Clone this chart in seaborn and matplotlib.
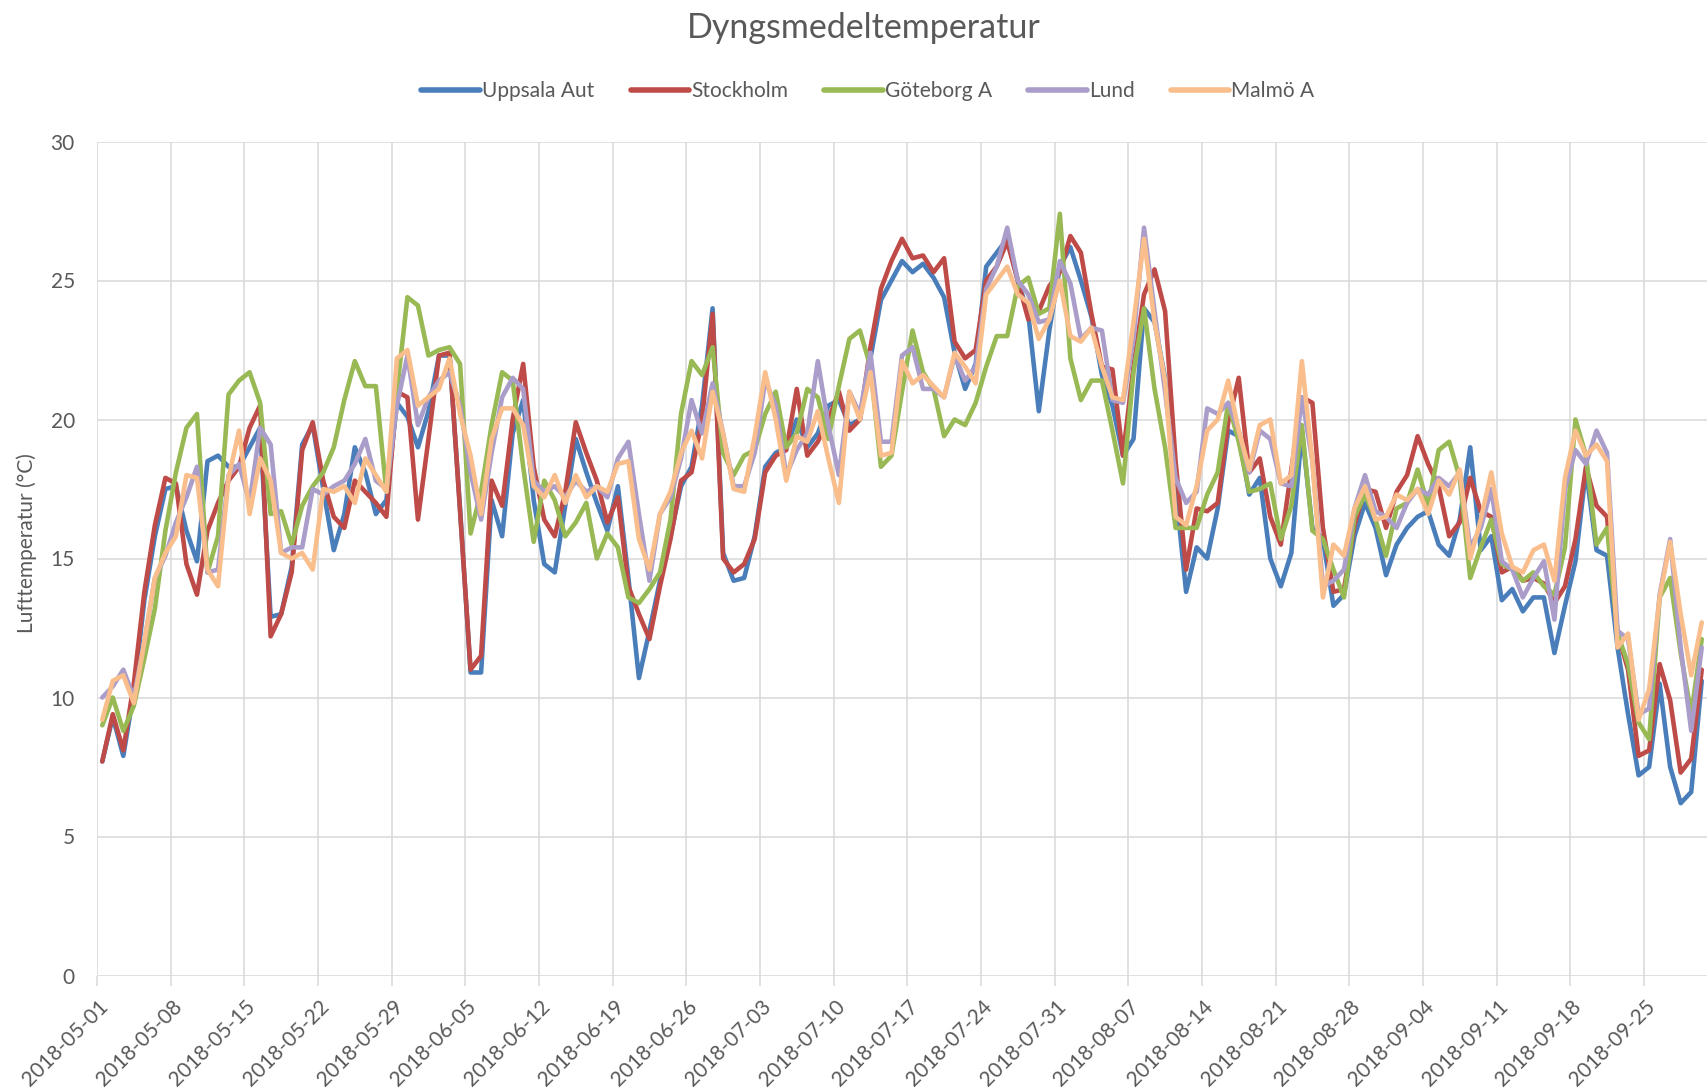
import pandas as pd
import seaborn as sns
import matplotlib.pyplot as plt
import matplotlib.dates as mdates
from matplotlib.transforms import ScaledTranslation

# Dygnsmedeltemperatur 2018-05-01 .. 2018-09-30 (153 dagar)
start = "2018-05-01"
stationer = ["Uppsala Aut", "Stockholm", "Göteborg A", "Lund", "Malmö A"]
farger = ["#4a7ebb", "#be4b48", "#98b954", "#ab9dca", "#f9be8c"]

uppsala = [7.7, 9.3, 7.9, 10.2, 13.5, 15.8, 17.5, 17.6, 16.0, 14.9, 18.5, 18.7, 18.3, 18.3, 19.0, 19.7, 12.9, 13.0, 14.7, 19.1, 19.8, 17.5, 15.3, 16.6, 19.0, 18.1,
           16.6, 17.1, 20.6, 20.1, 19.0, 20.3, 22.3, 22.3, 16.8, 10.9, 10.9, 17.1, 15.8, 19.5, 20.7, 17.1, 14.8, 14.5, 16.9, 19.3, 18.1, 17.0, 16.0, 17.6, 14.3,
           10.7, 12.4, 14.2, 15.8, 17.6, 18.3, 20.5, 24.0, 15.2, 14.2, 14.3, 15.8, 18.3, 18.8, 19.0, 20.0, 19.0, 19.5, 20.5, 20.7, 19.8, 20.0, 22.2, 24.3, 25.0,
           25.7, 25.3, 25.6, 25.1, 24.4, 22.4, 21.1, 22.0, 25.5, 26.0, 26.5, 25.0, 23.8, 20.3, 23.2, 25.5, 26.2, 25.0, 23.7, 21.6, 20.5, 18.7, 19.3, 24.0, 23.5,
           21.5, 17.5, 13.8, 15.4, 15.0, 16.8, 19.6, 19.4, 17.3, 17.9, 15.0, 14.0, 15.2, 19.6, 16.1, 15.7, 13.3, 13.7, 15.8, 17.0, 16.1, 14.4, 15.5, 16.1, 16.5,
           16.7, 15.5, 15.1, 16.4, 19.0, 15.3, 15.8, 13.5, 13.9, 13.1, 13.6, 13.6, 11.6, 13.3, 14.9, 18.2, 15.3, 15.1, 11.8, 9.4, 7.2, 7.5, 10.5, 7.5, 6.2, 6.6, 10.6]

stockholm = [7.7, 9.4, 8.1, 10.5, 13.8, 16.2, 17.9, 17.7, 14.8, 13.7, 16.0, 17.0, 17.8, 18.3, 19.7, 20.5, 12.2, 13.0, 14.5, 18.9, 19.9, 17.8, 16.5, 16.1, 17.8, 17.4,
             17.0, 16.5, 21.0, 20.8, 16.4, 19.3, 22.3, 22.4, 16.7, 11.0, 11.5, 17.8, 16.9, 20.0, 22.0, 18.3, 16.4, 15.8, 17.4, 19.9, 18.8, 17.8, 16.3, 17.2, 14.0,
             13.0, 12.1, 14.0, 15.7, 17.8, 18.1, 20.0, 23.8, 15.0, 14.5, 14.8, 15.7, 18.1, 18.7, 18.9, 21.1, 18.7, 19.2, 20.0, 21.0, 19.6, 20.0, 22.6, 24.7, 25.7,
             26.5, 25.8, 25.9, 25.3, 25.8, 22.8, 22.2, 22.5, 25.0, 25.5, 26.4, 25.0, 23.6, 23.9, 24.8, 25.3, 26.6, 26.0, 23.8, 21.9, 21.8, 18.7, 21.9, 24.5, 25.4,
             23.9, 18.5, 14.6, 16.8, 16.7, 17.0, 19.9, 21.5, 18.1, 18.6, 16.5, 15.5, 18.2, 20.8, 20.6, 16.1, 13.8, 13.9, 16.2, 17.5, 17.4, 16.1, 17.4, 18.0, 19.4,
             18.4, 17.6, 15.8, 16.3, 17.9, 16.7, 16.5, 14.5, 14.7, 14.2, 14.3, 14.1, 13.4, 14.0, 15.7, 18.3, 16.9, 16.5, 12.3, 11.0, 7.9, 8.1, 11.2, 9.9, 7.3, 7.8, 11.0]

goteborg = [9.0, 10.0, 8.8, 9.7, 11.4, 13.2, 16.0, 18.1, 19.7, 20.2, 14.5, 15.8, 20.9, 21.4, 21.7, 20.6, 16.6, 16.7, 15.5, 16.9, 17.6, 18.1, 19.0, 20.7, 22.1, 21.2,
            21.2, 17.4, 21.0, 24.4, 24.1, 22.3, 22.5, 22.6, 22.0, 15.9, 17.4, 19.8, 21.7, 21.4, 18.3, 15.6, 17.8, 17.1, 15.8, 16.3, 17.0, 15.0, 15.9, 15.4, 13.6,
            13.4, 13.9, 14.5, 16.4, 20.2, 22.1, 21.6, 22.6, 18.8, 18.0, 18.7, 18.9, 20.2, 21.0, 19.0, 19.5, 21.1, 20.8, 19.3, 21.2, 22.9, 23.2, 21.9, 18.3, 18.7,
            21.0, 23.2, 21.7, 21.1, 19.4, 20.0, 19.8, 20.6, 21.9, 23.0, 23.0, 24.8, 25.1, 23.8, 24.0, 27.4, 22.2, 20.7, 21.4, 21.4, 19.6, 17.7, 21.7, 24.0, 21.1,
            19.0, 16.1, 16.1, 16.1, 17.3, 18.1, 20.6, 19.2, 17.4, 17.5, 17.7, 15.7, 16.9, 19.8, 16.0, 15.7, 14.6, 13.6, 16.5, 17.3, 16.4, 15.1, 16.8, 17.0, 18.2,
            16.9, 18.9, 19.2, 17.9, 14.3, 15.4, 16.4, 14.8, 14.6, 14.2, 14.5, 14.0, 13.7, 15.4, 20.0, 18.7, 15.5, 16.1, 12.3, 11.2, 9.1, 8.5, 13.6, 14.3, 11.6, 9.4, 12.1]

lund = [10.0, 10.4, 11.0, 10.0, 12.0, 14.3, 15.1, 16.3, 17.2, 18.3, 14.5, 14.6, 18.0, 18.4, 17.0, 19.7, 19.1, 15.2, 15.4, 15.4, 17.5, 17.3, 17.6, 17.8, 18.4, 19.3,
        17.8, 17.5, 20.5, 22.3, 19.8, 20.8, 21.4, 21.7, 20.5, 18.1, 16.4, 18.8, 20.8, 21.5, 21.1, 17.8, 17.4, 17.6, 17.2, 17.8, 17.4, 17.6, 17.2, 18.6, 19.2,
        16.6, 14.2, 16.6, 17.2, 18.6, 20.7, 19.5, 21.3, 19.5, 17.6, 17.6, 18.8, 21.4, 20.5, 18.0, 18.9, 19.5, 22.1, 19.8, 18.0, 21.0, 20.2, 22.4, 19.2, 19.2,
        22.3, 22.6, 21.1, 21.1, 20.8, 22.3, 21.4, 21.9, 24.7, 25.5, 26.9, 25.0, 24.5, 23.5, 23.6, 25.7, 24.9, 22.9, 23.3, 23.2, 20.7, 20.6, 22.9, 26.9, 23.9,
        21.0, 17.9, 17.0, 17.4, 20.4, 20.2, 20.6, 19.6, 18.1, 19.6, 19.3, 17.7, 17.6, 20.8, 18.5, 14.0, 14.2, 14.6, 16.8, 18.0, 16.7, 16.5, 16.1, 17.0, 17.5,
        17.3, 17.9, 17.6, 18.1, 15.4, 16.1, 17.5, 14.9, 14.6, 13.6, 14.3, 14.9, 12.8, 17.5, 18.9, 18.4, 19.6, 18.8, 12.4, 12.1, 9.4, 9.6, 13.7, 15.7, 11.8, 8.8, 11.8]

malmo = [9.2, 10.6, 10.8, 9.8, 12.0, 14.3, 15.2, 15.8, 18.0, 17.9, 14.6, 14.0, 17.9, 19.6, 16.6, 18.6, 17.8, 15.2, 15.0, 15.2, 14.6, 17.5, 17.4, 17.6, 17.0, 18.6,
         18.0, 17.4, 22.2, 22.5, 20.5, 20.8, 21.1, 22.2, 20.2, 18.7, 16.6, 19.3, 20.4, 20.4, 19.8, 17.6, 17.2, 18.0, 17.0, 18.0, 17.2, 17.6, 17.4, 18.4, 18.5,
         15.7, 14.6, 16.6, 17.4, 18.8, 19.6, 18.6, 21.0, 19.5, 17.5, 17.4, 19.4, 21.7, 20.0, 17.8, 19.4, 19.2, 20.3, 18.6, 17.0, 21.0, 20.0, 21.7, 18.7, 18.8,
         22.1, 21.3, 21.6, 21.2, 20.8, 22.4, 21.9, 21.3, 24.5, 25.0, 25.5, 24.5, 24.2, 22.9, 23.6, 25.0, 23.0, 22.8, 23.3, 21.9, 20.8, 20.7, 23.5, 26.5, 23.5,
         21.4, 16.5, 16.2, 17.6, 19.6, 20.0, 21.4, 19.6, 18.2, 19.8, 20.0, 17.7, 18.0, 22.1, 18.5, 13.6, 15.5, 15.1, 16.8, 17.6, 16.4, 16.5, 17.3, 17.1, 17.5,
         16.6, 17.8, 17.3, 18.2, 15.0, 16.4, 18.1, 15.9, 14.7, 14.5, 15.3, 15.5, 14.2, 17.9, 19.6, 18.7, 19.1, 18.5, 11.8, 12.3, 9.2, 10.3, 13.6, 15.6, 13.0, 10.8, 12.7]

# långt format för seaborn, punkterna mitt i varje dag (som i Excel)
datum = pd.date_range(start, periods=len(uppsala), freq="D") + pd.Timedelta(hours=12)
df = pd.DataFrame({"datum": datum, "Uppsala Aut": uppsala, "Stockholm": stockholm,
                   "Göteborg A": goteborg, "Lund": lund, "Malmö A": malmo})
df = df.melt(id_vars="datum", var_name="station", value_name="temp")

sns.set_theme(style="white")
plt.rcParams["font.family"] = ["Lato", "DejaVu Sans"]
textfarg = "#595959"
gridfarg = "#d9d9d9"

fig = plt.figure(figsize=(17.07, 10.89), dpi=100)
ax = fig.add_axes([97 / 1707, 1 - 975.5 / 1089, 1610 / 1707, 834 / 1089])

sns.lineplot(data=df, x="datum", y="temp", hue="station", hue_order=stationer,
             palette=farger, linewidth=3.3, errorbar=None, ax=ax)

ax.set_xlim(pd.Timestamp("2018-05-01"), pd.Timestamp("2018-10-01"))
ax.set_ylim(0, 30)
ax.set_yticks(range(0, 31, 5))
ax.set_xticks(pd.date_range(start, "2018-09-30", freq="7D"))
ax.xaxis.set_major_formatter(mdates.DateFormatter("%Y-%m-%d"))
ax.grid(True, color=gridfarg, linewidth=1.1)
ax.set_axisbelow(True)
for s in ax.spines.values():
    s.set_visible(False)

ax.tick_params(axis="x", length=7, width=1.1, color=gridfarg, labelsize=15,
               labelcolor=textfarg, pad=4, bottom=True)
ax.tick_params(axis="y", length=0, labelsize=15, labelcolor=textfarg, pad=16)
flytt = ScaledTranslation(0.08, -0.13, fig.dpi_scale_trans)
for lab in ax.get_xticklabels():
    lab.set_rotation(45)
    lab.set_ha("right")
    lab.set_va("center")
    lab.set_rotation_mode("anchor")
    lab.set_transform(lab.get_transform() + flytt)

ax.set_xlabel("")
ax.set_ylabel("")
fig.text(27 / 1707, 1 - 543 / 1089, "Lufttemperatur (°C)", rotation=90,
         ha="center", va="center", fontsize=15, color=textfarg)

fig.text(864 / 1707, 1 - 38 / 1089, "Dyngsmedeltemperatur", ha="center",
         va="baseline", fontsize=24.5, color=textfarg)

handles, labels = ax.get_legend_handles_labels()
ax.get_legend().remove()
leg = fig.legend(handles, labels, loc="center", bbox_to_anchor=(868 / 1707, 1 - 91 / 1089),
                 ncol=5, frameon=False, fontsize=15, handlelength=2.8,
                 handletextpad=0.1, columnspacing=1.75)
for t in leg.get_texts():
    t.set_color(textfarg)
for h in leg.get_lines():
    h.set_linewidth(4)

fig.savefig("out.png", dpi=100)
